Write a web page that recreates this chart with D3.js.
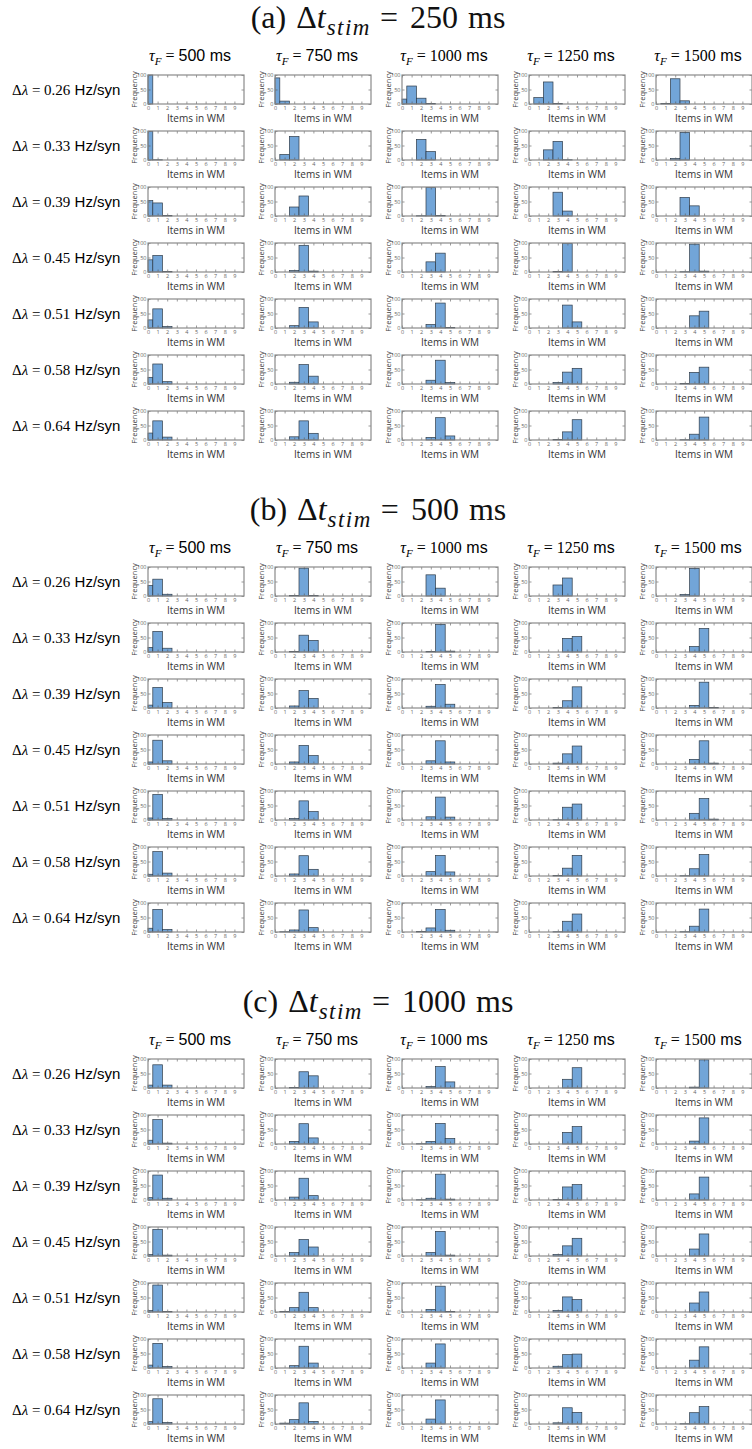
<!DOCTYPE html>
<html>
<head>
<meta charset="utf-8">
<script src="https://cdn.jsdelivr.net/npm/d3@7"></script>
<style>
  body { margin: 0; background: #fff; }
  svg { display: block; }
</style>
</head>
<body>
<script>
// column / row / panel categories
const tauF = [500, 750, 1000, 1250, 1500];
const dLambda = ["0.26", "0.33", "0.39", "0.45", "0.51", "0.58", "0.64"];
const dtStim = [250, 500, 1000];
const panelLetters = ["a", "b", "c"];
const itemBins = [0, 1, 2, 3, 4, 5, 6, 7, 8, 9];
const freqTicks = [0, 50, 100];

// frequency per bin (items in WM = 0,1,2,...), rows = dLambda, cols = tauF
const freq250 = [
  [[100], [90, 10], [17, 62, 20, 2], [0, 22, 76, 2], [0, 2, 87, 11]],
  [[99, 1], [0, 19, 81], [0, 0, 71, 29], [0, 0, 35, 64, 1], [0, 0, 5, 95]],
  [[53, 45, 2], [0, 0, 31, 69], [0, 0, 1, 98, 2], [0, 0, 0, 82, 17], [0, 0, 0, 64, 35]],
  [[42, 57, 2], [0, 0, 5, 92, 3], [0, 0, 0, 35, 65], [0, 0, 0, 2, 98], [0, 0, 0, 1, 96, 3]],
  [[28, 66, 5], [0, 0, 8, 71, 21], [0, 0, 0, 12, 86, 2], [0, 0, 0, 0, 79, 21], [0, 0, 0, 0, 42, 58]],
  [[23, 69, 8], [0, 0, 6, 67, 27], [0, 0, 0, 13, 82, 5], [0, 0, 0, 5, 41, 54], [0, 0, 0, 2, 40, 58]],
  [[24, 66, 10], [0, 0, 11, 66, 23], [0, 0, 0, 9, 77, 14], [0, 0, 0, 2, 28, 70], [0, 0, 0, 1, 20, 79]]
];
const freq500 = [
  [[36, 58, 6], [0, 0, 2, 96, 2], [0, 0, 0, 73, 27], [0, 0, 0, 38, 62], [0, 0, 0, 5, 95]],
  [[16, 71, 13], [0, 0, 2, 58, 40], [0, 0, 0, 2, 95, 3], [0, 0, 0, 0, 47, 53], [0, 0, 0, 0, 19, 81]],
  [[10, 71, 19], [0, 0, 7, 60, 33], [0, 0, 0, 6, 81, 13], [0, 0, 0, 2, 25, 73], [0, 0, 0, 0, 9, 89, 2]],
  [[7, 82, 11], [0, 0, 7, 64, 29], [0, 0, 0, 11, 80, 7], [0, 0, 0, 3, 35, 62], [0, 0, 0, 0, 16, 80, 3]],
  [[7, 88, 5], [0, 0, 5, 66, 29], [0, 0, 0, 11, 79, 10], [0, 0, 0, 1, 44, 55], [0, 0, 0, 0, 23, 74, 3]],
  [[6, 84, 10], [0, 0, 7, 70, 23], [0, 0, 0, 15, 71, 14], [0, 0, 0, 2, 27, 71], [0, 0, 0, 1, 25, 74]],
  [[13, 78, 9], [0, 1, 7, 76, 15], [0, 0, 2, 14, 78, 6], [0, 0, 0, 1, 37, 62], [0, 0, 0, 1, 20, 79]]
];
const freq1000 = [
  [[10, 80, 10], [0, 0, 2, 56, 42], [0, 0, 0, 5, 74, 21], [0, 0, 0, 0, 30, 70], [0, 0, 0, 0, 3, 97]],
  [[13, 84, 3], [0, 0, 9, 70, 21], [0, 0, 1, 9, 71, 19], [0, 0, 0, 0, 40, 60], [0, 0, 0, 0, 10, 90]],
  [[8, 86, 6], [0, 0, 10, 75, 15], [0, 0, 1, 6, 89, 3], [0, 0, 0, 2, 45, 53], [0, 0, 0, 0, 21, 79]],
  [[5, 92, 3], [0, 0, 12, 57, 31], [0, 0, 0, 12, 85, 3], [0, 0, 0, 5, 35, 61], [0, 0, 0, 0, 24, 76]],
  [[5, 93, 2], [0, 2, 15, 68, 15], [0, 0, 0, 9, 89, 2], [0, 0, 0, 5, 52, 43], [0, 0, 0, 0, 31, 69]],
  [[10, 85, 5], [0, 0, 8, 75, 17], [0, 0, 0, 17, 83], [0, 0, 0, 6, 46, 48], [0, 0, 0, 0, 27, 73]],
  [[8, 87, 5], [0, 3, 15, 73, 9], [0, 0, 0, 17, 83], [0, 0, 0, 4, 56, 40], [0, 0, 0, 1, 39, 60]]
];
const panels = [freq250, freq500, freq1000];

const W = 752, H = 1449;
const colLeft = [148, 275, 402, 529, 656];
const panelTop = [75, 567, 1059];
const rowStep = 56;
const AW = 96, AH = 29;

const serif = "'Liberation Serif', 'DejaVu Serif', serif";
const sans = "'Liberation Sans', Arial, sans-serif";
const small = "'Open Sans', 'DejaVu Sans', sans-serif";

const svg = d3.select("body").append("svg")
  .attr("width", W).attr("height", H);

const x = d3.scaleLinear().domain([0, 10]).range([0, AW]);
const y = d3.scaleLinear().domain([0, 100]).range([AH, 0]);

panels.forEach((freq, p) => {
  const top = panelTop[p];

  // panel title
  const t = svg.append("text")
    .attr("x", 378).attr("y", top - 47)
    .attr("text-anchor", "middle")
    .attr("font-family", serif).attr("font-size", 32)
    .attr("fill", "#111");
  t.append("tspan").text(`(${panelLetters[p]})`);
  t.append("tspan").attr("dx", 10).text("Δ");
  t.append("tspan").attr("font-style", "italic").text("t");
  t.append("tspan").attr("font-style", "italic").attr("font-size", 23)
    .attr("dy", 7).attr("dx", 1).attr("letter-spacing", 1.5).text("stim");
  t.append("tspan").attr("dy", -7).attr("dx", 9).text("=");
  t.append("tspan").attr("dx", 12).text(dtStim[p]);
  t.append("tspan").attr("dx", 10).text("ms");

  // column headers
  tauF.forEach((tf, c) => {
    const h = svg.append("text")
      .attr("x", colLeft[c] + AW / 2 - 6).attr("y", top - 14)
      .attr("text-anchor", "middle")
      .attr("font-size", 16);
    h.append("tspan").attr("font-family", serif).attr("font-style", "italic").text("τ");
    h.append("tspan").attr("font-family", serif).attr("font-style", "italic")
      .attr("font-size", 11).attr("dy", 4).text("F");
    h.append("tspan").attr("font-family", serif).attr("dy", -4).text(" = ");
    h.append("tspan").attr("font-family", tf >= 1000 ? serif : sans).text(tf);
    h.append("tspan").attr("font-family", sans).text(" ms");
  });

  dLambda.forEach((dl, r) => {
    const rowTop = top + r * rowStep;

    // row label
    const lab = svg.append("text")
      .attr("x", 12).attr("y", rowTop + AH / 2 + 5)
      .attr("font-size", 15);
    lab.append("tspan").attr("font-family", serif).text("Δ");
    lab.append("tspan").attr("font-family", serif).attr("font-style", "italic").text("λ");
    lab.append("tspan").attr("font-family", serif).text(` = ${dl}`);
    lab.append("tspan").attr("font-family", sans).text(" Hz/syn");

    tauF.forEach((tf, c) => {
      const g = svg.append("g")
        .attr("transform", `translate(${colLeft[c]},${rowTop})`);

      const bins = freq[r][c]
        .map((v, k) => ({ k, v }))
        .filter(d => d.v > 0);

      g.selectAll("rect.bar")
        .data(bins)
        .enter()
        .append("rect")
        .attr("class", "bar")
        .attr("x", d => x(Math.max(0, d.k - 0.5)))
        .attr("width", d => x(d.k + 0.5) - x(Math.max(0, d.k - 0.5)))
        .attr("y", d => y(d.v))
        .attr("height", d => y(0) - y(d.v))
        .attr("fill", "#72a5d8")
        .attr("stroke", "#2e3b48")
        .attr("stroke-width", 0.7);

      // axes: inward ticks on all sides
      const xb = g.append("g").attr("transform", `translate(0,${AH})`)
        .call(d3.axisBottom(x).tickValues(itemBins).tickSize(-2.5).tickPadding(2.5));
      const xt = g.append("g")
        .call(d3.axisTop(x).tickValues(itemBins).tickSize(-2.5).tickFormat(""));
      const yl = g.append("g")
        .call(d3.axisLeft(y).tickValues(freqTicks).tickSize(-2.5).tickPadding(1.5));
      const yr = g.append("g").attr("transform", `translate(${AW},0)`)
        .call(d3.axisRight(y).tickValues(freqTicks).tickSize(-2.5).tickFormat(""));
      [xb, xt, yl, yr].forEach(a => {
        a.select(".domain").remove();
        a.selectAll("line").attr("stroke", "#555").attr("stroke-width", 0.6);
        a.selectAll("text").attr("font-family", small).attr("font-size", 5.5).attr("fill", "#666");
      });

      g.append("rect")
        .attr("width", AW).attr("height", AH)
        .attr("fill", "none")
        .attr("stroke", "#8a8a8a")
        .attr("stroke-width", 1.2);

      g.append("text")
        .attr("x", AW / 2).attr("y", AH + 18)
        .attr("text-anchor", "middle")
        .attr("font-family", small).attr("font-size", 10)
        .attr("fill", "#333")
        .text("Items in WM");

      g.append("text")
        .attr("transform", `translate(-11,${AH / 2}) rotate(-90)`)
        .attr("text-anchor", "middle")
        .attr("font-family", small).attr("font-size", 7.5)
        .attr("fill", "#444")
        .text("Frequency");
    });
  });
});
</script>
</body>
</html>
